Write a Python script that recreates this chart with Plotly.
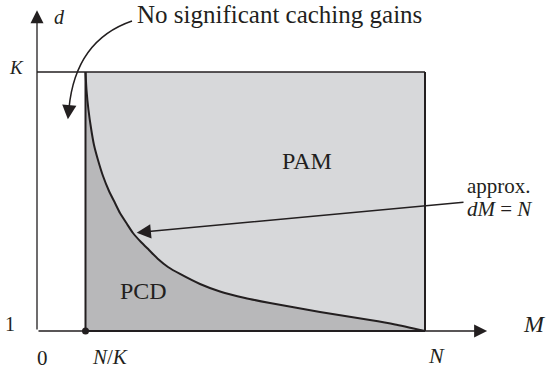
import plotly.graph_objects as go

# Problem parameters, normalised so that N = 1
N = 1.0
K = 8.0
NK = N / K

# Boundary between the PCD and PAM regions (approximately dM = N)
curve_M = [0.125, 0.1276, 0.1327, 0.1392, 0.1469, 0.1572, 0.1701, 0.1856, 0.2010,
           0.2139, 0.2320, 0.2474, 0.2680, 0.2887, 0.3119, 0.3376, 0.3686, 0.4201,
           0.4716, 0.5361, 0.6005, 0.6649, 0.7294, 0.7938, 0.8582, 0.9227, 1.0]
curve_d = [8.0, 7.514, 6.973, 6.486, 6.027, 5.622, 5.189, 4.784, 4.459,
           4.189, 3.892, 3.649, 3.405, 3.189, 2.946, 2.730, 2.541, 2.270,
           2.068, 1.892, 1.757, 1.635, 1.514, 1.405, 1.297, 1.176, 1.0]
POINTER_IDX = 11  # curve point the "approx." pointer lands on

# Axis tick labels
x_ticks = [(0.0, "0"), (NK, "<i>N</i>/<i>K</i>"), (N, "<i>N</i>")]
y_ticks = [(1.0, "1"), (K, "<i>K</i>")]

INK = "#231f20"
PAM_FILL = "#d7d8da"
PCD_FILL = "#b8b8ba"
FONT = "Liberation Serif, Times New Roman, serif"

X_RANGE = [-0.09536, 1.33247]
Y_RANGE = [-0.08108, 9.94595]
X_TIP = 1.1688   # end of the M axis arrow
Y_TIP = 9.757    # end of the d axis arrow

fig = go.Figure()

# PCD region: between the curve and d = 1
fig.add_trace(go.Scatter(
    x=curve_M + [NK], y=curve_d + [1.0],
    mode="lines", fill="toself", fillcolor=PCD_FILL,
    line=dict(width=0, color=PCD_FILL),
    hoverinfo="skip"))

# Boundary curve
fig.add_trace(go.Scatter(
    x=curve_M, y=curve_d, mode="lines",
    line=dict(width=2, color=INK, shape="spline", smoothing=0.5),
    hoverinfo="skip"))

# Point at (N/K, 1)
fig.add_trace(go.Scatter(
    x=[NK], y=[1.0], mode="markers",
    marker=dict(size=7, color=INK), hoverinfo="skip"))

shapes = [
    # PAM rectangle fill
    dict(type="rect", x0=NK, x1=N, y0=1.0, y1=K, xref="x", yref="y",
         fillcolor=PAM_FILL, line=dict(width=0), layer="below"),
    # d = K line from the axis to the right edge
    dict(type="line", x0=0, x1=N, y0=K, y1=K, xref="x", yref="y",
         line=dict(color=INK, width=1.5)),
    # Left and right edges of the region
    dict(type="line", x0=NK, x1=NK, y0=1.0, y1=K, xref="x", yref="y",
         line=dict(color=INK, width=2)),
    dict(type="line", x0=N, x1=N, y0=1.0, y1=K, xref="x", yref="y",
         line=dict(color=INK, width=2)),
    # Bottom edge of the region, on top of the M axis
    dict(type="line", x0=NK, x1=N, y0=1.0, y1=1.0, xref="x", yref="y",
         line=dict(color=INK, width=2)),
    # Curved pointer from the caption
    dict(type="path", xref="x", yref="y",
         path="M 0.2448,9.378 C 0.1624,9.081 0.0954,8.405 0.0825,7.027",
         line=dict(color=INK, width=1.5)),
]

annotations = []


def arrow(x, y, ax, ay, size, width):
    scale = size * width
    annotations.append(dict(
        x=x, y=y, ax=ax, ay=ay, xref="x", yref="y", axref="x", ayref="y",
        text="", showarrow=True, arrowhead=2, arrowsize=size, arrowwidth=width,
        arrowcolor=INK, standoff=1.3 * scale))


# Axes with arrow heads
arrow(0.0, Y_TIP, 0.0, 1.0, 2.0, 1.3)
arrow(X_TIP, 1.0, 0.0, 1.0, 2.0, 1.3)
# Head of the curved pointer
arrow(0.0786, 6.622, 0.0825, 7.027, 1.9, 1.5)
# Pointer from the "approx." note to the curve
arrow(curve_M[POINTER_IDX], curve_d[POINTER_IDX], 1.1031, 4.486, 1.9, 1.5)


def label(text, x, y, size, xanchor="center"):
    annotations.append(dict(
        x=x, y=y, xref="x", yref="y", text=text, showarrow=False,
        xanchor=xanchor, yanchor="middle",
        font=dict(family=FONT, size=size, color=INK)))


# Tick labels
label(x_ticks[0][1], 0.0129, 0.27, 21)
label(x_ticks[1][1], 0.188, 0.297, 21)
label(x_ticks[2][1], 1.0284, 0.338, 22)
label(y_ticks[0][1], -0.0696, 1.184, 20)
label(y_ticks[1][1], -0.0541, 8.135, 19)

# Axis names
label("<i>d</i>", 0.0567, 9.486, 20)
label("<i>M</i>", 1.281, 1.189, 24)

# Region names and notes
label("PAM", 0.6946, 5.595, 24)
label("PCD", 0.2732, 2.081, 24)
label("No significant caching gains", 0.2526, 9.541, 25, xanchor="left")
label("approx.", 1.1031, 4.932, 21, xanchor="left")
label("<i>dM</i> = <i>N</i>", 1.1031, 4.297, 21, xanchor="left")

fig.update_layout(
    width=554, height=371,
    margin=dict(l=0, r=0, t=0, b=0, pad=0),
    paper_bgcolor="white", plot_bgcolor="white",
    showlegend=False,
    xaxis=dict(range=X_RANGE, visible=False, fixedrange=True),
    yaxis=dict(range=Y_RANGE, visible=False, fixedrange=True),
    shapes=shapes, annotations=annotations,
)

fig.write_html("out.html")
